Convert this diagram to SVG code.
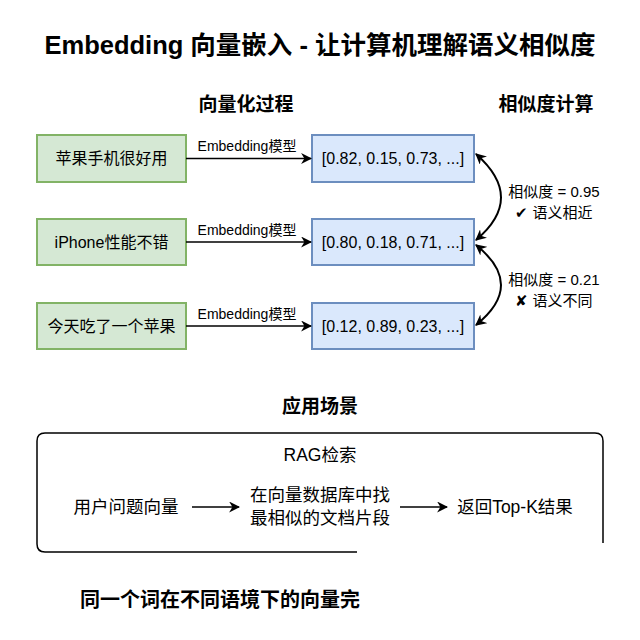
<svg xmlns="http://www.w3.org/2000/svg" width="640" height="640" viewBox="0 0 640 640">
<defs>
<marker id="ah" viewBox="0 0 10 10" refX="9" refY="5" markerWidth="11" markerHeight="11" markerUnits="userSpaceOnUse" orient="auto-start-reverse">
<path d="M0,0 L10,5 L0,10 L3,5 Z" fill="#000"/>
</marker>
</defs>
<style>
text{font-family:"Liberation Sans","Noto Sans CJK SC",sans-serif;fill:#000;text-anchor:middle;}
.b{font-weight:bold;}
.g{fill:#d5e8d4;stroke:#82b366;stroke-width:2;}
.v{fill:#dae8fc;stroke:#6c8ebf;stroke-width:2;}
.n{font-size:16px;}
.lbl{font-size:14px;}
.s{font-size:15px;}
.r{font-size:17.5px;}
.c{fill:none;stroke:#000;stroke-width:1.5;}
.cc{fill:none;stroke:#000;stroke-width:2;}
</style>
<rect width="640" height="640" fill="#fff"/>
<text class="b" x="320" y="54" font-size="25.5">Embedding 向量嵌入 - 让计算机理解语义相似度</text>
<text class="b" x="246" y="111" font-size="19">向量化过程</text>
<text class="b" x="546" y="111" font-size="19">相似度计算</text>

<g id="t1"><rect class="g" x="37" y="135" width="149" height="47"/><text class="n" x="111.5" y="164">苹果手机很好用</text></g>
<g id="t2"><rect class="g" x="37" y="219" width="149" height="46"/><text class="n" x="111.5" y="248">iPhone性能不错</text></g>
<g id="t3"><rect class="g" x="37" y="303" width="149" height="46"/><text class="n" x="111.5" y="332">今天吃了一个苹果</text></g>
<g id="v1"><rect class="v" x="312" y="135" width="162" height="47"/><text class="n" x="393" y="164">[0.82, 0.15, 0.73, ...]</text></g>
<g id="v2"><rect class="v" x="312" y="219" width="162" height="46"/><text class="n" x="393" y="248">[0.80, 0.18, 0.71, ...]</text></g>
<g id="v3"><rect class="v" x="312" y="303" width="162" height="46"/><text class="n" x="393" y="332">[0.12, 0.89, 0.23, ...]</text></g>

<g id="connectors">
<line class="c" x1="186" y1="158.5" x2="311" y2="158.5" marker-end="url(#ah)"/>
<line class="c" x1="186" y1="242" x2="311" y2="242" marker-end="url(#ah)"/>
<line class="c" x1="186" y1="326" x2="311" y2="326" marker-end="url(#ah)"/>
<path class="cc" d="M476,154 Q526,198 476,240" marker-start="url(#ah)" marker-end="url(#ah)"/>
<path class="cc" d="M476,245 Q526,285 476,325" marker-start="url(#ah)" marker-end="url(#ah)"/>
<line class="c" x1="192" y1="507" x2="239" y2="507" marker-end="url(#ah)"/>
<line class="c" x1="400" y1="507" x2="447" y2="507" marker-end="url(#ah)"/>
</g>
<text class="lbl" x="247" y="151">Embedding模型</text>
<text class="lbl" x="247" y="235">Embedding模型</text>
<text class="lbl" x="247" y="319">Embedding模型</text>
<text class="s" x="554" y="197">相似度 = 0.95</text>
<text class="s" x="554" y="218">✔ 语义相近</text>
<text class="s" x="554" y="285">相似度 = 0.21</text>
<text class="s" x="554" y="306">✘ 语义不同</text>

<text class="b" x="320" y="413" font-size="19">应用场景</text>
<g id="rag">
<path d="M357,552 L45,552 Q37,552 37,544 L37,441 Q37,433 45,433 L595,433 Q603,433 603,441 L603,543" fill="none" stroke="#000" stroke-width="1.5"/>
<text class="r" x="320" y="461">RAG检索</text>
</g>
<g id="q"><text class="r" x="126" y="513">用户问题向量</text></g>
<g id="db"><text class="r" x="320" y="501">在向量数据库中找</text><text class="r" x="320" y="524">最相似的文档片段</text></g>
<g id="res"><text class="r" x="515" y="513">返回Top-K结果</text></g>
<text class="b" x="80" y="607" font-size="20" style="text-anchor:start">同一个词在不同语境下的向量完</text>
</svg>
